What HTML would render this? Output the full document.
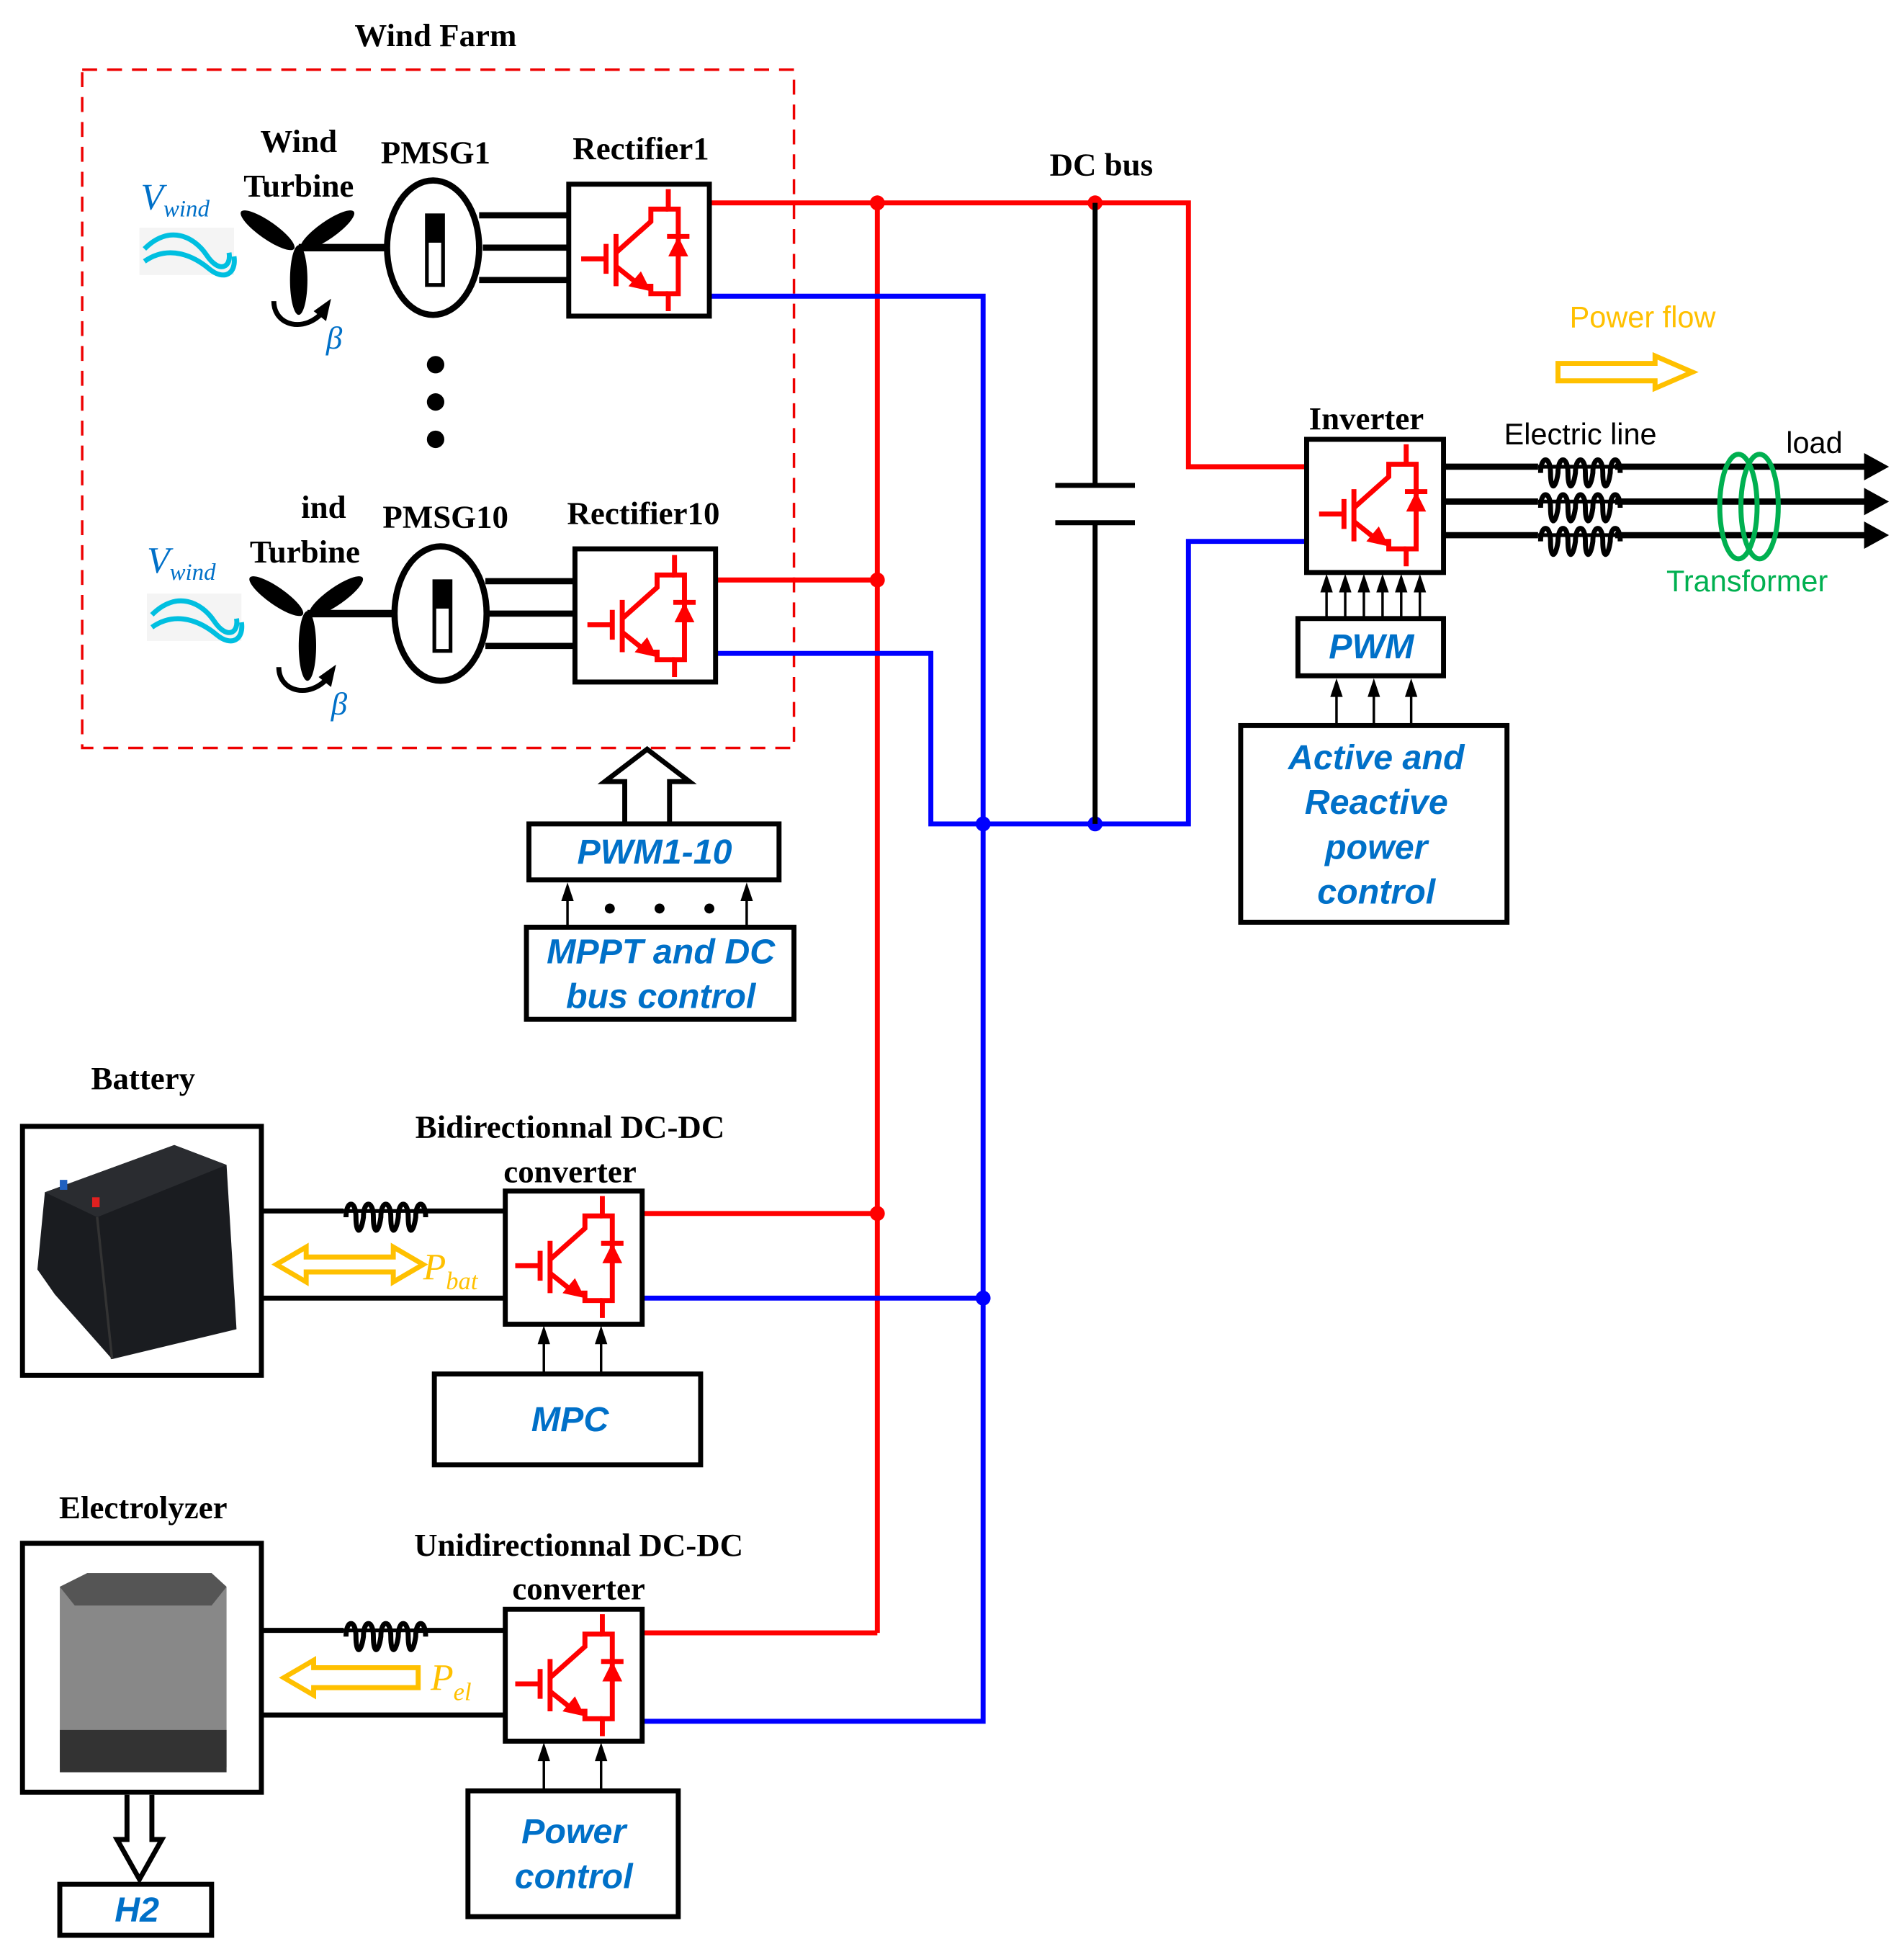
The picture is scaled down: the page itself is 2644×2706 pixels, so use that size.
<!DOCTYPE html>
<html><head><meta charset="utf-8"><style>
html,body{margin:0;padding:0;background:#fff;}
svg{display:block;}
.t{font-family:"Liberation Serif",serif;font-weight:bold;fill:#000;}
.b{font-family:"Liberation Sans",sans-serif;font-weight:bold;font-style:italic;fill:#0070C8;}
.s{font-family:"Liberation Sans",sans-serif;}
</style></head><body>
<svg width="2644" height="2706" viewBox="0 0 1530 1566" xmlns="http://www.w3.org/2000/svg">
<defs>
<g id="sw">
 <g stroke="#f00" stroke-width="4" fill="none">
  <path d="M80 4V20H88V88H80V102"/>
  <path d="M80 20H66V30L38 55"/>
  <path d="M38 40V82"/>
  <path d="M30 48V72M10 60H30"/>
  <path d="M38 66L58 82H66V88H80"/>
 </g>
 <path d="M66 86L48 82L58 70Z" fill="#f00"/>
 <path d="M88 42L80 58H96Z" fill="#f00"/>
 <path d="M79 42H97" stroke="#f00" stroke-width="4"/>
</g>
<g id="coil" fill="none" stroke="#000" stroke-width="4">
 <path d="M0 0c0-14 8-14 8 0s4 14 6 0c0-14 8-14 8 0s4 14 6 0c0-14 8-14 8 0s4 14 6 0c0-14 8-14 8 0s4 14 6 0c0-14 8-14 8 0"/>
</g>
<path id="ah" d="M-5 15L0 0L5 15Z" fill="#000"/>
</defs>

<!-- Wind farm boundary -->
<rect x="66" y="56" width="572" height="545" fill="none" stroke="#e00" stroke-width="2" stroke-dasharray="12,8"/>
<text x="350" y="37" class="t" font-size="26" text-anchor="middle">Wind Farm</text>

<!-- Bus lines -->
<g fill="none" stroke-width="4">
 <path d="M570 163H955V375H1050" stroke="#f00"/>
 <path d="M705 163V1312" stroke="#f00"/>
 <path d="M575 466H705M516 975H705M516 1312H705" stroke="#f00"/>
 <path d="M570 238H790V1383H516" stroke="#00f"/>
 <path d="M516 1043H790" stroke="#00f"/>
 <path d="M575 525H748V662H955V435H1050" stroke="#00f"/>
</g>
<g fill="#f00"><circle cx="705" cy="163" r="6"/><circle cx="705" cy="466" r="6"/><circle cx="705" cy="975" r="6"/><circle cx="880" cy="163" r="6"/></g>
<g fill="#00f"><circle cx="790" cy="662" r="6"/><circle cx="880" cy="662" r="6"/><circle cx="790" cy="1043" r="6"/></g>
<!-- capacitor -->
<path d="M880 163V390M880 420V662M848 390H912M848 420H912" stroke="#000" stroke-width="4"/>
<text x="885" y="141" class="t" font-size="26" text-anchor="middle">DC bus</text>

<!-- Turbine 1 -->
<text x="113" y="168" font-family="Liberation Serif,serif" font-style="italic" font-size="30" fill="#0070C8">V<tspan font-size="19" dy="6">wind</tspan></text>
<rect x="112" y="183" width="76" height="38" fill="#f4f4f4"/>
<g fill="none" stroke="#00bfe0" stroke-width="4"><path d="M116 200c20-20 40-10 50 5s20 10 18-2"/><path d="M116 210c20-14 40-4 52 6s22 4 20-10"/></g>
<text x="240" y="122" class="t" font-size="26" text-anchor="middle">Wind</text>
<text x="240" y="158" class="t" font-size="26" text-anchor="middle">Turbine</text>
<g fill="#000"><ellipse cx="215" cy="185" rx="26" ry="7" transform="rotate(35 215 185)"/><ellipse cx="263" cy="185" rx="26" ry="7" transform="rotate(-35 263 185)"/><ellipse cx="240" cy="225" rx="7" ry="28"/></g>
<path d="M240 199H312" stroke="#000" stroke-width="6"/>
<path d="M220 242c0 20 25 26 40 8" fill="none" stroke="#000" stroke-width="4"/><path d="M266 240L262 258L252 250Z" fill="#000"/>
<text x="262" y="280" font-family="Liberation Serif,serif" font-style="italic" font-size="26" fill="#0070C8">β</text>
<ellipse cx="348" cy="199" rx="37" ry="54" fill="#fff" stroke="#000" stroke-width="5"/>
<rect x="343" y="173" width="13" height="56" fill="#fff" stroke="#000" stroke-width="3"/><rect x="343" y="173" width="13" height="22" fill="#000"/>
<path d="M385 173H457M388 199H457M385 225H457" stroke="#000" stroke-width="5"/>
<text x="350" y="131" class="t" font-size="26" text-anchor="middle">PMSG1</text>
<text x="515" y="128" class="t" font-size="26" text-anchor="middle">Rectifier1</text>
<rect x="457" y="148" width="113" height="106" fill="#fff" stroke="#000" stroke-width="4"/>
<use href="#sw" x="457" y="148"/>

<g fill="#000"><circle cx="350" cy="293" r="7"/><circle cx="350" cy="323" r="7"/><circle cx="350" cy="353" r="7"/></g>

<!-- Turbine 10 -->
<text x="118" y="460" font-family="Liberation Serif,serif" font-style="italic" font-size="30" fill="#0070C8">V<tspan font-size="19" dy="6">wind</tspan></text>
<rect x="118" y="477" width="76" height="38" fill="#f4f4f4"/>
<g fill="none" stroke="#00bfe0" stroke-width="4"><path d="M122 494c20-20 40-10 50 5s20 10 18-2"/><path d="M122 504c20-14 40-4 52 6s22 4 20-10"/></g>
<text x="260" y="416" class="t" font-size="26" text-anchor="middle">ind</text>
<text x="245" y="452" class="t" font-size="26" text-anchor="middle">Turbine</text>
<g fill="#000"><ellipse cx="222" cy="479" rx="26" ry="7" transform="rotate(35 222 479)"/><ellipse cx="270" cy="479" rx="26" ry="7" transform="rotate(-35 270 479)"/><ellipse cx="247" cy="519" rx="7" ry="28"/></g>
<path d="M247 493H318" stroke="#000" stroke-width="6"/>
<path d="M224 536c0 20 25 26 40 8" fill="none" stroke="#000" stroke-width="4"/><path d="M270 534L266 552L256 544Z" fill="#000"/>
<text x="266" y="574" font-family="Liberation Serif,serif" font-style="italic" font-size="26" fill="#0070C8">β</text>
<ellipse cx="354" cy="493" rx="37" ry="54" fill="#fff" stroke="#000" stroke-width="5"/>
<rect x="349" y="467" width="13" height="56" fill="#fff" stroke="#000" stroke-width="3"/><rect x="349" y="467" width="13" height="22" fill="#000"/>
<path d="M390 467H462M393 493H462M390 519H462" stroke="#000" stroke-width="5"/>
<text x="358" y="424" class="t" font-size="26" text-anchor="middle">PMSG10</text>
<text x="517" y="421" class="t" font-size="26" text-anchor="middle">Rectifier10</text>
<rect x="462" y="441" width="113" height="107" fill="#fff" stroke="#000" stroke-width="4"/>
<use href="#sw" x="462" y="442"/>

<!-- PWM1-10 -->
<path d="M502 660V628H486L520 602L554 628H538V660" fill="#fff" stroke="#000" stroke-width="4"/>
<rect x="425" y="662" width="201" height="45" fill="#fff" stroke="#000" stroke-width="4"/>
<text x="526" y="694" class="b" font-size="28" text-anchor="middle">PWM1-10</text>
<path d="M456 745V720M600 745V720" stroke="#000" stroke-width="2"/>
<use href="#ah" x="456" y="709"/><use href="#ah" x="600" y="709"/>
<g fill="#000"><circle cx="490" cy="730" r="4"/><circle cx="530" cy="730" r="4"/><circle cx="570" cy="730" r="4"/></g>
<rect x="423" y="745" width="215" height="74" fill="#fff" stroke="#000" stroke-width="4"/>
<text x="531" y="774" class="b" font-size="28" text-anchor="middle">MPPT and DC</text>
<text x="531" y="810" class="b" font-size="28" text-anchor="middle">bus control</text>

<!-- Inverter -->
<text x="1098" y="345" class="t" font-size="26" text-anchor="middle">Inverter</text>
<path d="M1160 375H1505M1160 403H1505M1160 430H1505" stroke="#000" stroke-width="5"/>
<g fill="#fff" stroke="#fff" stroke-width="6"><path d="M1236 375H1298M1236 403H1298M1236 430H1298"/></g>
<use href="#coil" x="1238" y="380"/><use href="#coil" x="1238" y="408"/><use href="#coil" x="1238" y="435"/>
<path d="M1236 375H1298M1236 403H1298M1236 430H1298" stroke="#000" stroke-width="3"/>
<g fill="#000"><path d="M1498 364L1518 375L1498 386Z"/><path d="M1498 392L1518 403L1498 414Z"/><path d="M1498 419L1518 430L1498 441Z"/></g>
<g fill="none" stroke="#00B050" stroke-width="4"><ellipse cx="1397" cy="407" rx="15" ry="42"/><ellipse cx="1414" cy="407" rx="15" ry="42"/></g>
<text x="1270" y="357" class="s" font-size="24" text-anchor="middle">Electric line</text>
<text x="1458" y="364" class="s" font-size="24" text-anchor="middle">load</text>
<text x="1404" y="475" class="s" font-size="24" text-anchor="middle" fill="#00B050">Transformer</text>
<text x="1320" y="263" class="s" font-size="24" text-anchor="middle" fill="#FFC000">Power flow</text>
<path d="M1252 292H1330V286L1360 299L1330 312V306H1252Z" fill="none" stroke="#FFC000" stroke-width="4"/>
<rect x="1050" y="353" width="110" height="107" fill="#fff" stroke="#000" stroke-width="4"/>
<use href="#sw" x="1050" y="353"/>
<path d="M1066 497V472M1081 497V472M1096 497V472M1111 497V472M1126 497V472M1141 497V472" stroke="#000" stroke-width="2"/>
<use href="#ah" x="1066" y="461"/><use href="#ah" x="1081" y="461"/><use href="#ah" x="1096" y="461"/><use href="#ah" x="1111" y="461"/><use href="#ah" x="1126" y="461"/><use href="#ah" x="1141" y="461"/>
<rect x="1043" y="497" width="117" height="46" fill="#fff" stroke="#000" stroke-width="4"/>
<text x="1102" y="529" class="b" font-size="28" text-anchor="middle">PWM</text>
<path d="M1074 583V556M1104 583V556M1134 583V556" stroke="#000" stroke-width="2"/>
<use href="#ah" x="1074" y="545"/><use href="#ah" x="1104" y="545"/><use href="#ah" x="1134" y="545"/>
<rect x="997" y="583" width="214" height="158" fill="#fff" stroke="#000" stroke-width="4"/>
<text x="1106" y="618" class="b" font-size="28" text-anchor="middle">Active and</text>
<text x="1106" y="654" class="b" font-size="28" text-anchor="middle">Reactive</text>
<text x="1106" y="690" class="b" font-size="28" text-anchor="middle">power</text>
<text x="1106" y="726" class="b" font-size="28" text-anchor="middle">control</text>

<!-- Battery -->
<text x="115" y="875" class="t" font-size="26" text-anchor="middle">Battery</text>
<rect x="18" y="905" width="192" height="200" fill="#fff" stroke="#000" stroke-width="4"/>
<path d="M36 958L140 920L182 936L190 1068L90 1092L44 1040L30 1020Z" fill="#1a1c20"/>
<path d="M36 958L140 920L182 936L78 978Z" fill="#2a2c30"/>
<path d="M78 978L90 1092" stroke="#333" stroke-width="2"/>
<rect x="48" y="948" width="6" height="8" fill="#2060c0"/><rect x="74" y="962" width="6" height="8" fill="#e02020"/>
<path d="M210 973H406M210 1043H406" stroke="#000" stroke-width="4"/>
<path d="M276 973H336" stroke="#fff" stroke-width="6"/><use href="#coil" x="278" y="978"/><path d="M276 973H336" stroke="#000" stroke-width="3"/>
<path d="M222 1016L246 1002V1010H316V1002L340 1016L316 1030V1022H246V1030Z" fill="none" stroke="#FFC000" stroke-width="4"/>
<text x="340" y="1028" font-family="Liberation Serif,serif" font-style="italic" font-size="30" fill="#FFC000">P<tspan font-size="20" dy="8">bat</tspan></text>
<text x="458" y="914" class="t" font-size="26" text-anchor="middle">Bidirectionnal DC-DC</text>
<text x="458" y="950" class="t" font-size="26" text-anchor="middle">converter</text>
<rect x="406" y="957" width="110" height="107" fill="#fff" stroke="#000" stroke-width="4"/>
<use href="#sw" x="404" y="957"/>
<path d="M437 1104V1076M483 1104V1076" stroke="#000" stroke-width="2"/>
<use href="#ah" x="437" y="1065"/><use href="#ah" x="483" y="1065"/>
<rect x="349" y="1104" width="214" height="73" fill="#fff" stroke="#000" stroke-width="4"/>
<text x="458" y="1150" class="b" font-size="28" text-anchor="middle">MPC</text>

<!-- Electrolyzer -->
<text x="115" y="1220" class="t" font-size="26" text-anchor="middle">Electrolyzer</text>
<rect x="18" y="1240" width="192" height="200" fill="#fff" stroke="#000" stroke-width="4"/>
<path d="M48 1275L70 1264H170L182 1275V1420H48Z" fill="#888"/>
<path d="M48 1275L70 1264H170L182 1275L170 1290H60Z" fill="#555"/>
<path d="M48 1390H182V1424H48Z" fill="#333"/>
<path d="M210 1310H406M210 1378H406" stroke="#000" stroke-width="4"/>
<path d="M276 1310H336" stroke="#fff" stroke-width="6"/><use href="#coil" x="278" y="1315"/><path d="M276 1310H336" stroke="#000" stroke-width="3"/>
<path d="M228 1348L252 1334V1340H336V1356H252V1362Z" fill="none" stroke="#FFC000" stroke-width="4"/>
<text x="346" y="1358" font-family="Liberation Serif,serif" font-style="italic" font-size="30" fill="#FFC000">P<tspan font-size="20" dy="8">el</tspan></text>
<text x="465" y="1250" class="t" font-size="26" text-anchor="middle">Unidirectionnal DC-DC</text>
<text x="465" y="1285" class="t" font-size="26" text-anchor="middle">converter</text>
<rect x="406" y="1293" width="110" height="106" fill="#fff" stroke="#000" stroke-width="4"/>
<use href="#sw" x="404" y="1293"/>
<path d="M437 1439V1411M483 1439V1411" stroke="#000" stroke-width="2"/>
<use href="#ah" x="437" y="1400"/><use href="#ah" x="483" y="1400"/>
<rect x="376" y="1439" width="169" height="101" fill="#fff" stroke="#000" stroke-width="4"/>
<text x="461" y="1481" class="b" font-size="28" text-anchor="middle">Power</text>
<text x="461" y="1517" class="b" font-size="28" text-anchor="middle">control</text>
<path d="M102 1442V1478H94L112 1510L130 1478H122V1442" fill="#fff" stroke="#000" stroke-width="4"/>
<rect x="48" y="1514" width="122" height="41" fill="#fff" stroke="#000" stroke-width="4"/>
<text x="110" y="1544" class="b" font-size="28" text-anchor="middle">H2</text>
</svg>
</body></html>
